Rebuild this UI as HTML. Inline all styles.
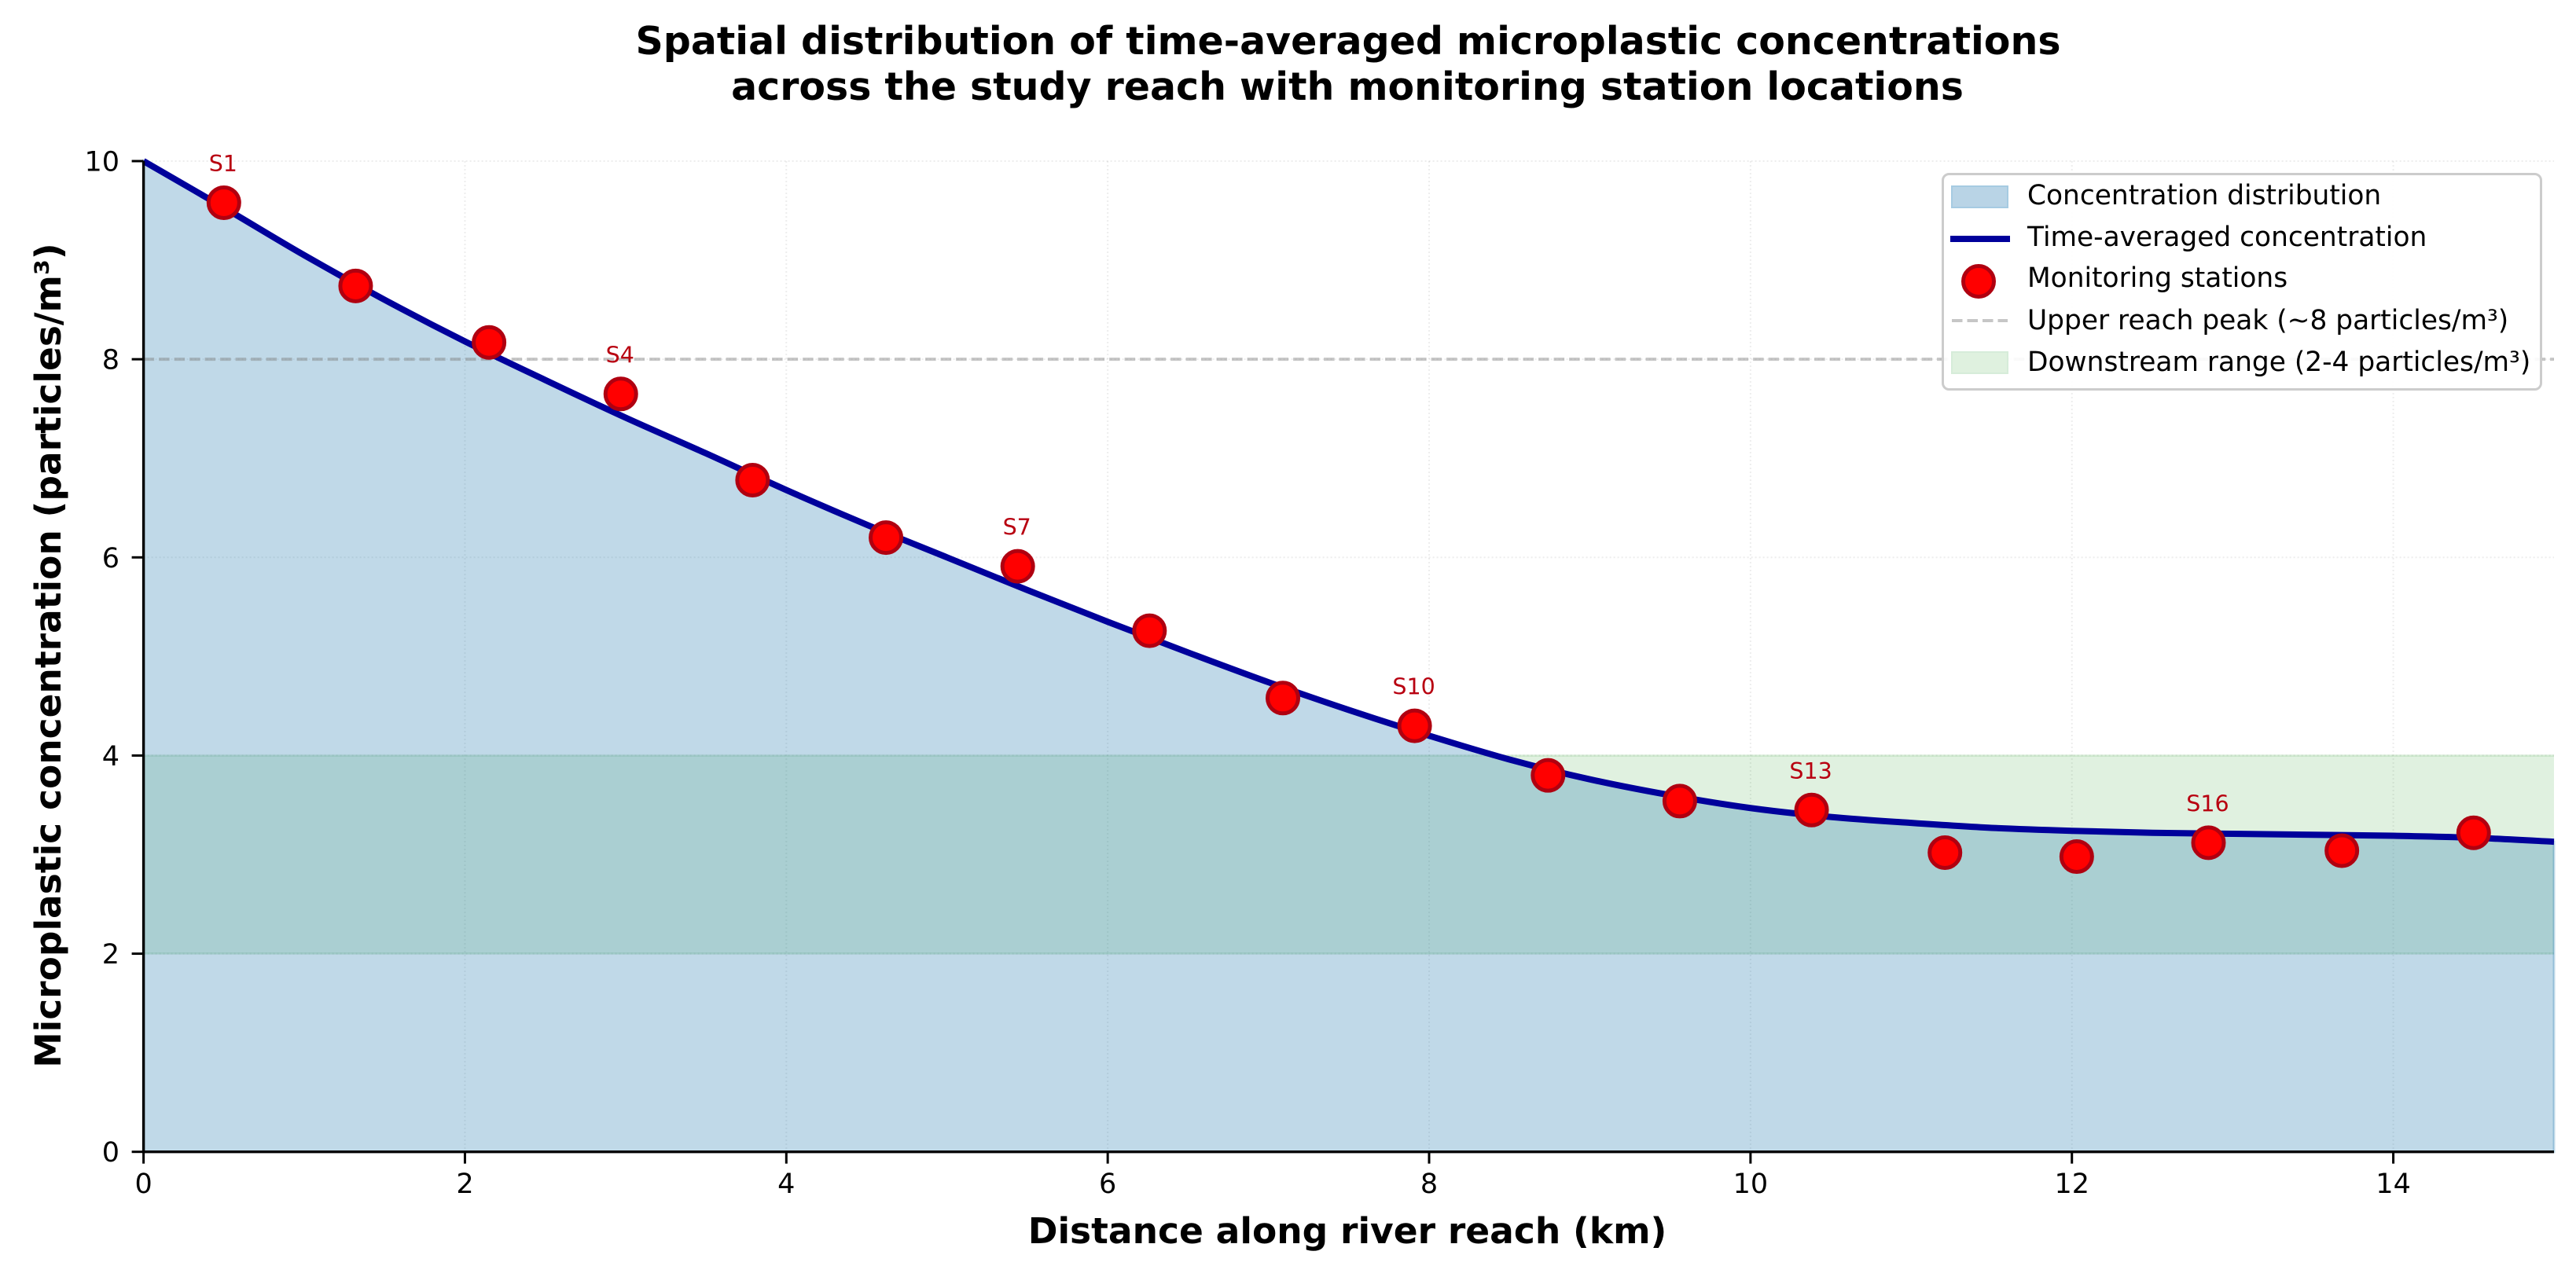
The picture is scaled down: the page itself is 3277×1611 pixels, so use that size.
<!DOCTYPE html>
<html lang="en">
<head>
<meta charset="utf-8">
<title>Spatial distribution of microplastic concentrations</title>
<style>
html,body{margin:0;padding:0;background:#fff;}
svg{display:block;font-family:"DejaVu Sans","Liberation Sans",sans-serif;}
</style>
</head>
<body>
<svg id="chart" xmlns="http://www.w3.org/2000/svg" width="3277" height="1611" viewBox="0 0 3277 1611">
  <rect x="0" y="0" width="3277" height="1611" fill="#ffffff"/>
  <g id="grid"></g>
  <g id="bands"></g>
  <g id="series"></g>
  <g id="axes"></g>
  <text x="1715" y="69" text-anchor="middle" font-size="49" font-weight="bold" fill="#000">Spatial distribution of time-averaged microplastic concentrations</text>
  <text x="1714" y="127" text-anchor="middle" font-size="49" font-weight="bold" fill="#000">across the study reach with monitoring station locations</text>
  <text x="1714" y="1582" text-anchor="middle" font-size="45.5" font-weight="bold" fill="#000">Distance along river reach (km)</text>
  <text transform="translate(77 834) rotate(-90)" text-anchor="middle" font-size="45.5" font-weight="bold" fill="#000">Microplastic concentration (particles/m³)</text>
  <g>
    <rect x="2471.5" y="221.5" width="761" height="274" rx="8" ry="8" fill="#ffffff" fill-opacity="0.9" stroke="#cccccc" stroke-width="3"/>
    <rect x="2483" y="237" width="71" height="27" fill="#b9d4e6" stroke="#a6cbe2" stroke-width="2"/>
    <text x="2579" y="260" font-size="34.4" fill="#000">Concentration distribution</text>
    <line x1="2481" y1="304" x2="2557" y2="304" stroke="#00009b" stroke-width="8"/>
    <text x="2579" y="313" font-size="34.4" fill="#000">Time-averaged concentration</text>
    <circle cx="2517" cy="358" r="19.5" fill="#ff0000" stroke="#b00010" stroke-width="5"/>
    <text x="2579" y="365" font-size="34.4" fill="#000">Monitoring stations</text>
    <line x1="2483" y1="408" x2="2554" y2="408" stroke="#808080" stroke-opacity="0.45" stroke-width="4" stroke-dasharray="13.5 6"/>
    <text x="2579" y="419" font-size="34.4" fill="#000">Upper reach peak (~8 particles/m³)</text>
    <rect x="2483" y="448" width="71" height="27" fill="#dff1df" stroke="#d6ecd9" stroke-width="2"/>
    <text x="2579" y="472" font-size="34.4" fill="#000">Downstream range (2-4 particles/m³)</text>
  </g>
</svg>
<script>
const lineKm = [0,0.5,1,1.5,2,2.5,3,3.5,4,4.5,5,5.5,6,6.5,7,7.5,8,8.5,9,9.5,10,10.5,11,11.5,12,12.5,13,13.5,14,14.5,15];
const lineConc = [10,9.53,9.05,8.6,8.18,7.79,7.41,7.05,6.68,6.33,6.0,5.67,5.35,5.04,4.74,4.46,4.2,3.96,3.76,3.6,3.47,3.38,3.32,3.27,3.24,3.22,3.21,3.2,3.19,3.17,3.13];
const stationKm = [0.5,1.32,2.15,2.97,3.79,4.62,5.44,6.26,7.09,7.91,8.74,9.56,10.38,11.21,12.03,12.85,13.68,14.5];
const stationConc = [9.58,8.74,8.17,7.65,6.78,6.2,5.91,5.26,4.58,4.3,3.8,3.54,3.45,3.02,2.98,3.12,3.04,3.22];
const stationLabels = ["S1","","","S4","","","S7","","","S10","","","S13","","","S16","",""];
const xTickValues = [0,2,4,6,8,10,12,14];
const yTickValues = [0,2,4,6,8,10];
const peakLevel = [8];
const downstreamRange = [2,4];
const xDomain = [0,15];
const yDomain = [0,10];

const plot = {left:182.6,right:3249,top:205,bottom:1465.7};
const NS = "http://www.w3.org/2000/svg";
function xAxis(v){return plot.left+(v-xDomain[0])/(xDomain[1]-xDomain[0])*(plot.right-plot.left);}
function yAxis(v){return plot.bottom-(v-yDomain[0])/(yDomain[1]-yDomain[0])*(plot.bottom-plot.top);}
function make(tag,parent,attrs){
  const el=document.createElementNS(NS,tag);
  for(const k in attrs){el.setAttribute(k,attrs[k]);}
  parent.appendChild(el);
  return el;
}
function smoothCurve(xs,ys){
  const p=xs.map(function(k,i){return [xAxis(k),yAxis(ys[i])];});
  let d="";
  for(let i=0;i<p.length-1;i++){
    const a=p[Math.max(i-1,0)],b=p[i],c=p[i+1],e=p[Math.min(i+2,p.length-1)];
    d+=" C"+(b[0]+(c[0]-a[0])/6)+" "+(b[1]+(c[1]-a[1])/6)+" "+(c[0]-(e[0]-b[0])/6)+" "+(c[1]-(e[1]-b[1])/6)+" "+c[0]+" "+c[1];
  }
  return {start:p[0],end:p[p.length-1],body:d};
}
const grid=document.getElementById("grid");
const bands=document.getElementById("bands");
const series=document.getElementById("series");
const axes=document.getElementById("axes");

xTickValues.forEach(function(v){
  const g=make("line",grid,{x1:xAxis(v),x2:xAxis(v),y1:plot.top,y2:plot.bottom,stroke:"#000","stroke-opacity":"0.07","stroke-width":"2","stroke-dasharray":"2 3"});
  
  
});
yTickValues.forEach(function(v){
  const g=make("line",grid,{x1:plot.left,x2:plot.right,y1:yAxis(v),y2:yAxis(v),stroke:"#000","stroke-opacity":"0.07","stroke-width":"2","stroke-dasharray":"2 3"});
  
  
});

const band=make("rect",bands,{x:plot.left,width:plot.right-plot.left,y:yAxis(downstreamRange[1]),height:yAxis(downstreamRange[0])-yAxis(downstreamRange[1]),fill:"#2ca02c","fill-opacity":"0.15"});


const bandTop=make("line",bands,{x1:plot.left,x2:plot.right,y1:yAxis(downstreamRange[1]),y2:yAxis(downstreamRange[1]),stroke:"#2ca02c","stroke-opacity":"0.12","stroke-width":"3"});


const bandBottom=make("line",bands,{x1:plot.left,x2:plot.right,y1:yAxis(downstreamRange[0]),y2:yAxis(downstreamRange[0]),stroke:"#2ca02c","stroke-opacity":"0.12","stroke-width":"3"});



const curve=smoothCurve(lineKm,lineConc);
const area=make("path",series,{d:"M"+curve.start[0]+" "+yAxis(0)+" L"+curve.start[0]+" "+curve.start[1]+curve.body+" L"+curve.end[0]+" "+yAxis(0)+" Z",fill:"#3080b4","fill-opacity":"0.3",stroke:"#3080b4","stroke-opacity":"0.3","stroke-width":"3"});



const peak=make("line",series,{x1:plot.left,x2:plot.right,y1:yAxis(peakLevel[0]),y2:yAxis(peakLevel[0]),stroke:"#808080","stroke-opacity":"0.45","stroke-width":"4","stroke-dasharray":"13.5 6"});



const line=make("path",series,{d:"M"+curve.start[0]+" "+curve.start[1]+curve.body,fill:"none",stroke:"#00009b","stroke-width":"8","stroke-linejoin":"round"});



stationKm.forEach(function(k,i){
  const c=make("circle",series,{cx:xAxis(k),cy:yAxis(stationConc[i]),r:"19.5",fill:"#ff0000",stroke:"#b00010","stroke-width":"5"});
  
  
  if(stationLabels[i]){
    const t=make("text",series,{x:xAxis(k)-1,y:yAxis(stationConc[i])-40,"text-anchor":"middle","font-size":"28.5",fill:"#b80010"});
    t.textContent=stationLabels[i];
    
    
  }
});

const spineLeft=make("line",axes,{x1:plot.left,x2:plot.left,y1:plot.top,y2:plot.bottom+1.7,stroke:"#000","stroke-width":"3.4"});


const spineBottom=make("line",axes,{x1:plot.left-1.7,x2:plot.right,y1:plot.bottom,y2:plot.bottom,stroke:"#000","stroke-width":"3.4"});



xTickValues.forEach(function(v){
  const m=make("line",axes,{x1:xAxis(v),x2:xAxis(v),y1:plot.bottom,y2:plot.bottom+15,stroke:"#000","stroke-width":"3"});
  
  
  const t=make("text",axes,{x:xAxis(v),y:1518,"text-anchor":"middle","font-size":"35",fill:"#000"});
  t.textContent=String(v);
  
  
});
yTickValues.forEach(function(v){
  const m=make("line",axes,{x1:plot.left-15,x2:plot.left,y1:yAxis(v),y2:yAxis(v),stroke:"#000","stroke-width":"3"});
  
  
  const t=make("text",axes,{x:152,y:yAxis(v)+12.5,"text-anchor":"end","font-size":"35",fill:"#000"});
  t.textContent=String(v);
  
  
});
</script>
</body>
</html>
